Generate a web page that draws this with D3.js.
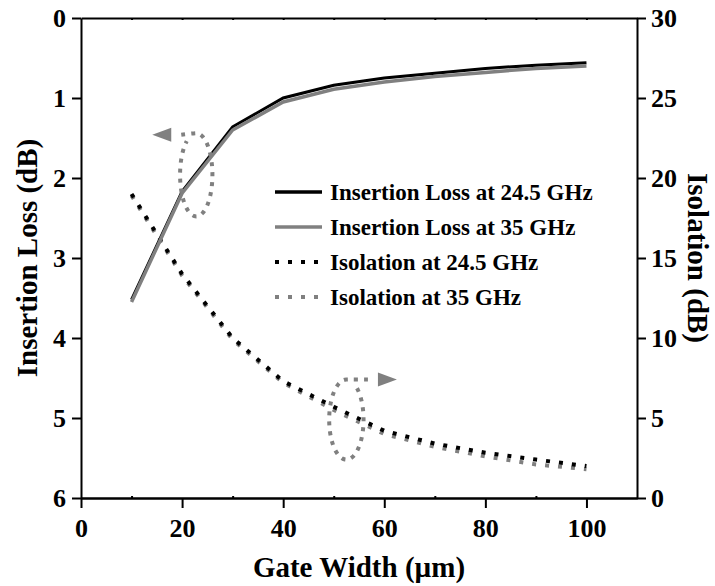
<!DOCTYPE html>
<html>
<head>
<meta charset="utf-8">
<script src="https://cdn.jsdelivr.net/npm/d3@7"></script>
<style>
  body { margin: 0; background: #fff; }
  text { font-family: "Liberation Serif", "Times New Roman", serif; font-weight: bold; }
</style>
</head>
<body>
<script>
// gate widths (um)
const gateWidth = [10, 20, 30, 40, 50, 60, 70, 80, 90, 100];
// insertion loss (dB), left axis
const ilLow = [3.52, 2.17, 1.36, 1.00, 0.84, 0.75, 0.69, 0.63, 0.59, 0.56];
const ilHigh = [3.55, 2.19, 1.40, 1.05, 0.89, 0.80, 0.73, 0.68, 0.63, 0.60];
// isolation (dB), right axis
const isoLow = [19.0, 14.0, 10.0, 7.3, 5.7, 4.2, 3.4, 2.83, 2.4, 2.0];
const isoHigh = [18.9, 13.9, 9.9, 7.2, 5.5, 4.0, 3.2, 2.6, 2.1, 1.8];

const xTicks = [0, 20, 40, 60, 80, 100];
const ilTicks = [0, 1, 2, 3, 4, 5, 6];
const isoTicks = [0, 5, 10, 15, 20, 25, 30];
const legendLabels = ["Insertion Loss at 24.5 GHz", "Insertion Loss at 35 GHz",
                      "Isolation at 24.5 GHz", "Isolation at 35 GHz"];

const W = 715, H = 586;
const m = {left: 81, right: 78, top: 18, bottom: 88};

const svg = d3.select("body").append("svg")
    .attr("width", W).attr("height", H);

const x = d3.scaleLinear([0, 110], [m.left, W - m.right]);
const yL = d3.scaleLinear([0, 6], [m.top, H - m.bottom]);
const yR = d3.scaleLinear([0, 30], [H - m.bottom, m.top]);

// axes
svg.append("g")
    .attr("transform", `translate(0,${H - m.bottom})`)
    .call(d3.axisBottom(x).tickValues(xTicks).tickSize(10).tickSizeOuter(0).tickPadding(11));
svg.append("g")
    .attr("transform", `translate(0,${H - m.bottom})`)
    .call(d3.axisTop(x).tickValues([10, 30, 50, 70, 90]).tickSize(2).tickSizeOuter(0).tickFormat(""));
svg.append("g")
    .attr("transform", `translate(0,${m.top})`)
    .call(d3.axisBottom(x).tickValues(d3.range(10, 110, 10)).tickSize(2).tickSizeOuter(0).tickFormat(""));
svg.append("g")
    .attr("transform", `translate(${m.left},0)`)
    .call(d3.axisLeft(yL).tickValues(ilTicks).tickFormat(d3.format("d"))
      .tickSize(9).tickSizeOuter(0).tickPadding(6));
svg.append("g")
    .attr("transform", `translate(${W - m.right},0)`)
    .call(d3.axisRight(yR).tickValues(isoTicks).tickSize(9).tickSizeOuter(0).tickPadding(5));

svg.selectAll(".domain, .tick line").attr("stroke", "#000").attr("stroke-width", 2);
svg.selectAll(".tick text").attr("fill", "#000")
    .style("font-size", "26px").style("font-family", "Liberation Serif").style("font-weight", "bold");

// axis titles
svg.append("text")
    .attr("x", (m.left + W - m.right) / 2).attr("y", 577)
    .attr("text-anchor", "middle").style("font-size", "29px")
    .text("Gate Width (\u00b5m)");
svg.append("text")
    .attr("transform", `translate(37,${(m.top + H - m.bottom) / 2}) rotate(-90)`)
    .attr("text-anchor", "middle").style("font-size", "29px")
    .text("Insertion Loss (dB)");
svg.append("text")
    .attr("transform", `translate(688,${(m.top + H - m.bottom) / 2}) rotate(90)`)
    .attr("text-anchor", "middle").style("font-size", "29px")
    .text("Isolation (dB)");

// series
const lineL = d3.line().x(d => x(d[0])).y(d => yL(d[1]));
const lineR = d3.line().x(d => x(d[0])).y(d => yR(d[1]));
const zipped = v => gateWidth.map((g, i) => [g, v[i]]);

const dots = "4,9";
svg.append("path").datum(zipped(isoHigh)).attr("d", lineR)
    .attr("fill", "none").attr("stroke", "#808080").attr("stroke-width", 4).attr("stroke-dasharray", dots);
svg.append("path").datum(zipped(isoLow)).attr("d", lineR)
    .attr("fill", "none").attr("stroke", "#000").attr("stroke-width", 4).attr("stroke-dasharray", dots);
svg.append("path").datum(zipped(ilLow)).attr("d", lineL)
    .attr("fill", "none").attr("stroke", "#000").attr("stroke-width", 3);
svg.append("path").datum(zipped(ilHigh)).attr("d", lineL)
    .attr("fill", "none").attr("stroke", "#808080").attr("stroke-width", 3.5);

// annotation loops with arrows (in data units)
// dir: ellipse travel direction, arrowDir: -1 points left, 1 points right
function loop(cx, cy, rx, ry, yScale, tipX, tipY, dir, arrowDir) {
  const px = x(cx), py = yScale(cy);
  const rpx = Math.abs(x(cx + rx) - px), rpy = Math.abs(yScale(cy + ry) - py);
  const tx = x(tipX), ty = yScale(tipY);
  const baseX = tx - arrowDir * 19;
  const pts = [[baseX - arrowDir * 10, ty]];
  const a0 = -Math.PI / 2;
  for (let i = 0; i <= 60; i++) {
    const a = a0 + dir * (i / 60) * Math.PI * 1.8;
    pts.push([px + rpx * Math.cos(a), py + rpy * Math.sin(a)]);
  }
  svg.append("path").attr("d", d3.line().curve(d3.curveCatmullRom)(pts))
      .attr("fill", "none").attr("stroke", "#808080").attr("stroke-width", 4)
      .attr("stroke-dasharray", "4,6");
  svg.append("path")
      .attr("d", `M${tx},${ty}L${baseX},${ty - 7}L${baseX},${ty + 7}Z`)
      .attr("fill", "#808080");
}
loop(22.8, 1.96, 3.2, 0.52, yL, 14.1, 1.46, 1, -1);
loop(52.5, 4.9, 3.4, 2.5, yR, 62.5, 7.4, -1, 1);

// legend
const legend = svg.append("g");
legendLabels.forEach((t, i) => {
  const ly = 192 + i * 35;
  legend.append("line")
      .attr("x1", 275).attr("x2", 322).attr("y1", ly).attr("y2", ly)
      .attr("stroke", i % 2 ? "#808080" : "#000")
      .attr("stroke-width", i < 2 ? 3.5 : 4)
      .attr("stroke-dasharray", i < 2 ? null : "4,9");
  legend.append("text")
      .attr("x", 330).attr("y", ly + 7.5)
      .style("font-size", "23px")
      .text(t);
});
</script>
</body>
</html>
